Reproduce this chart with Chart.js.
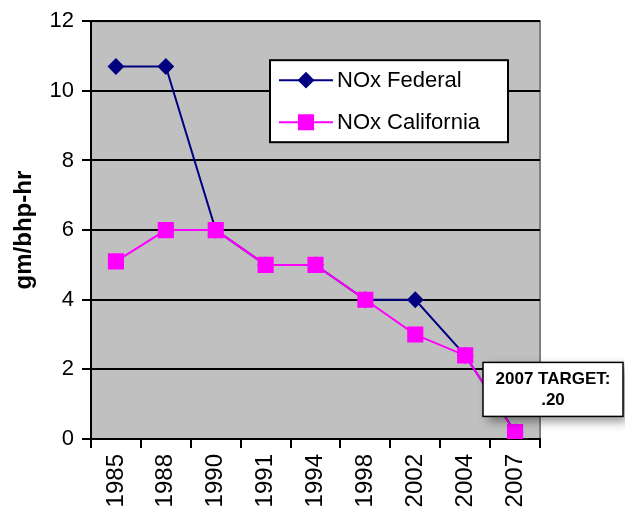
<!DOCTYPE html>
<html>
<head>
<meta charset="utf-8">
<script src="https://cdn.jsdelivr.net/npm/chart.js@4.4.1/dist/chart.umd.min.js"></script>
<style>
  html, body { margin: 0; padding: 0; background: #fff; overflow: hidden; }
  #wrap { width: 625px; height: 509px; }
</style>
</head>
<body>
<div id="wrap"><canvas id="noxChart" width="625" height="509"></canvas></div>
<script>
// chart data
const years = ['1985', '1988', '1990', '1991', '1994', '1998', '2002', '2004', '2007'];
const noxFederal = [10.7, 10.7, 6, 5, 5, 4, 4, 2.4, 0.2];
const noxCalifornia = [5.1, 6, 6, 5, 5, 4, 3, 2.4, 0.2];
const yTicks = [0, 2, 4, 6, 8, 10, 12];
const targetLines = ['2007 TARGET:', '.20'];

const FONT = '"Liberation Sans", Arial, sans-serif';

// gray plot background + borders
const plotBg = {
    id: 'plotBg',
    beforeDraw(chart) {
        const { ctx, chartArea: a } = chart;
        ctx.save();
        ctx.fillStyle = '#c0c0c0';
        ctx.fillRect(a.left, a.top, a.right - a.left, a.bottom - a.top);
        ctx.strokeStyle = '#808080';
        ctx.lineWidth = 2;
        ctx.beginPath();
        ctx.moveTo(a.left, a.top);
        ctx.lineTo(a.right, a.top);
        ctx.lineTo(a.right, a.bottom);
        ctx.stroke();
        ctx.restore();
    }
};

// legend box inside the plot and the target callout
const extras = {
    id: 'extras',
    afterDraw(chart) {
        const { ctx, chartArea: a } = chart;
        ctx.save();

        // legend
        const lx = a.left + 179, ly = a.top + 39, lw = 238, lh = 82;
        ctx.fillStyle = '#fff';
        ctx.fillRect(lx, ly, lw, lh);
        ctx.strokeStyle = '#000';
        ctx.lineWidth = 2;
        ctx.strokeRect(lx, ly, lw, lh);
        chart.data.datasets.forEach((ds, i) => {
            const cy = ly + 20 + i * 42;
            ctx.strokeStyle = ds.borderColor;
            ctx.lineWidth = 2;
            ctx.beginPath();
            ctx.moveTo(lx + 9, cy);
            ctx.lineTo(lx + 63, cy);
            ctx.stroke();
            Chart.helpers.drawPoint(ctx, {
                pointStyle: ds.pointStyle,
                radius: ds.pointRadius,
                borderWidth: 1
            }, lx + 36, cy);
            ctx.fillStyle = ds.pointBackgroundColor;
            ctx.fill();
            ctx.fillStyle = '#000';
            ctx.font = '22px ' + FONT;
            ctx.textBaseline = 'middle';
            ctx.fillText(ds.label, lx + 67, cy + 1);
        });

        // 2007 target callout
        const bx = a.right - 57, by = chart.scales.y.getPixelForValue(2.2), bw = 140, bh = 54;
        ctx.shadowColor = 'rgba(0,0,0,0.45)';
        ctx.shadowBlur = 10;
        ctx.shadowOffsetX = 5;
        ctx.shadowOffsetY = 5;
        ctx.fillStyle = '#fff';
        ctx.fillRect(bx, by, bw, bh);
        ctx.shadowColor = 'transparent';
        ctx.strokeStyle = '#000';
        ctx.lineWidth = 1.5;
        ctx.strokeRect(bx, by, bw, bh);
        ctx.fillStyle = '#000';
        ctx.font = 'bold 17px ' + FONT;
        ctx.textAlign = 'center';
        ctx.textBaseline = 'middle';
        targetLines.forEach((t, i) => ctx.fillText(t, bx + bw / 2, by + 17 + i * 21));

        ctx.restore();
    }
};

const ctx = document.getElementById('noxChart').getContext('2d');

const noxChart = new Chart(ctx, {
    type: 'line',
    data: {
        labels: years,
        datasets: [
            {
                label: 'NOx Federal',
                data: noxFederal,
                order: 2,
                borderColor: '#000080',
                backgroundColor: '#000080',
                pointBackgroundColor: '#000080',
                pointBorderColor: '#000080',
                pointStyle: 'rectRot',
                pointRadius: 7,
                borderWidth: 2,
                tension: 0
            },
            {
                label: 'NOx California',
                data: noxCalifornia,
                order: 1,
                borderColor: '#ff00ff',
                backgroundColor: '#ff00ff',
                pointBackgroundColor: '#ff00ff',
                pointBorderColor: '#ff00ff',
                pointStyle: 'rect',
                pointRadius: 10,
                borderWidth: 2,
                tension: 0
            }
        ]
    },
    options: {
        responsive: false,
        animation: false,
        layout: {
            padding: { top: 20, right: 85, left: 0, bottom: 0 }
        },
        scales: {
            x: {
                offset: true,
                grid: {
                    offset: true,
                    drawOnChartArea: false,
                    color: '#000',
                    lineWidth: 2,
                    tickLength: 9
                },
                border: { color: '#000', width: 2 },
                ticks: {
                    minRotation: 90,
                    maxRotation: 90,
                    autoSkip: false,
                    color: '#000',
                    padding: 6,
                    font: { family: FONT, size: 24 }
                },
                afterFit(scale) { scale.height = 70; }
            },
            y: {
                min: 0,
                max: 12,
                afterBuildTicks(scale) {
                    scale.ticks = yTicks.map(v => ({ value: v }));
                },
                grid: {
                    color: '#000',
                    lineWidth: 2,
                    tickLength: 9
                },
                border: { color: '#000', width: 2 },
                ticks: {
                    color: '#000',
                    padding: 8,
                    font: { family: FONT, size: 22 }
                },
                title: {
                    display: true,
                    text: 'gm/bhp-hr',
                    color: '#000',
                    font: { family: FONT, size: 24, weight: 'bold' },
                    padding: { top: 10, bottom: 4 }
                },
                afterFit(scale) { scale.width = 91; }
            }
        },
        plugins: {
            legend: { display: false },
            tooltip: { enabled: false }
        }
    },
    plugins: [plotBg, extras]
});
</script>
</body>
</html>
